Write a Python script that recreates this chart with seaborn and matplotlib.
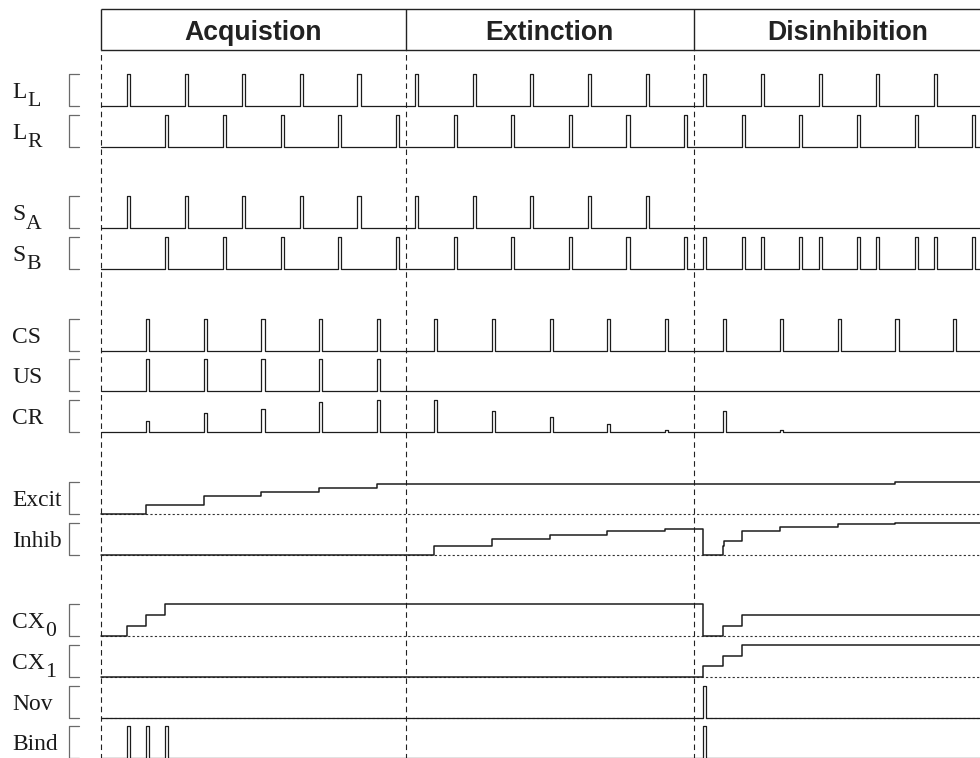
import numpy as np
import pandas as pd
import matplotlib
matplotlib.use("Agg")
import matplotlib.pyplot as plt
import seaborn as sns

# ---------------- data (time in simulation steps, one trial = 30 steps) ----------------
phase_names = ["Acquistion", "Extinction", "Disinhibition"]
phase_bounds = [-3.5, 155, 305, 465]

LL_times = [10, 40, 70, 100, 130, 160, 190, 220, 250, 280, 310, 340, 370, 400, 430]
LR_times = [30, 60, 90, 120, 150, 180, 210, 240, 270, 300, 330, 360, 390, 420, 450]
SA_times = [10, 40, 70, 100, 130, 160, 190, 220, 250, 280]
SB_times = [30, 60, 90, 120, 150, 180, 210, 240, 270, 300,
            310, 330, 340, 360, 370, 390, 400, 420, 430, 450]
CS_times = [20, 50, 80, 110, 140, 170, 200, 230, 260, 290, 320, 350, 380, 410, 440]
US_times = [20, 50, 80, 110, 140]
CR_times = [20, 50, 80, 110, 140, 170, 200, 230, 260, 290, 320, 350, 380, 410, 440]
CR_heights = [0.34, 0.61, 0.73, 0.93, 1.0, 1.0, 0.67, 0.47, 0.26, 0.07, 0.66, 0.07, 0.0, 0.0, 0.0]
Nov_times = [310]
Bind_times = [10, 20, 30, 310]

Excit_t = [20, 50, 80, 110, 140, 410]
Excit_v = [0.28, 0.54, 0.67, 0.79, 0.93, 1.0]
Inhib_t = [170, 200, 230, 260, 290, 310, 320, 321, 330, 350, 380, 410]
Inhib_v = [0.27, 0.47, 0.61, 0.75, 0.81, 0.0, 0.26, 0.42, 0.73, 0.86, 0.94, 0.99]
CX0_t = [10, 20, 30, 310, 320, 330]
CX0_v = [0.33, 0.67, 1.0, 0.0, 0.33, 0.67]
CX1_t = [310, 320, 330]
CX1_v = [0.33, 0.66, 1.0]

row_labels = ["L", "L", "S", "S", "CS", "US", "CR", "Excit", "Inhib", "CX", "CX", "Nov", "Bind"]
row_subs = ["L", "R", "A", "B", "", "", "", "", "", "0", "1", "", ""]
row_slots = [0, 1, 3, 4, 6, 7, 8, 10, 11, 13, 14, 15, 16]

# ---------------- layout ----------------
ROW_H = 0.785          # signal height as a fraction of row spacing
PULSE_W = 1.6          # pulse width in time steps
T0, T1 = phase_bounds[0], phase_bounds[-1] + 5
XLIM = (-56.07, 454.0)
YLIM = (-15.99, 2.60)
HDR_TOP, HDR_BOT, HDR_TXT = 2.379, 1.373, 1.618
INK = "#1c1c1c"


def pulse_path(times, heights=None):
    if heights is None:
        heights = [1.0] * len(times)
    xs, ys = [T0], [0.0]
    for t, v in zip(times, heights):
        xs += [t, t, t + PULSE_W, t + PULSE_W]
        ys += [0.0, v, v, 0.0]
    xs.append(T1)
    ys.append(0.0)
    return xs, ys


def step_path(ts, vs, v0=0.0):
    xs, ys, prev = [T0], [v0], v0
    for t, v in zip(ts, vs):
        xs += [t, t]
        ys += [prev, v]
        prev = v
    xs.append(T1)
    ys.append(prev)
    return xs, ys


pulse_rows = {
    "LL": (0, pulse_path(LL_times)),
    "LR": (1, pulse_path(LR_times)),
    "SA": (3, pulse_path(SA_times)),
    "SB": (4, pulse_path(SB_times)),
    "CS": (6, pulse_path(CS_times)),
    "US": (7, pulse_path(US_times)),
    "CR": (8, pulse_path(CR_times, CR_heights)),
    "Nov": (15, pulse_path(Nov_times)),
    "Bind": (16, pulse_path(Bind_times)),
}
step_rows = {
    "Excit": (10, step_path(Excit_t, Excit_v)),
    "Inhib": (11, step_path(Inhib_t, Inhib_v)),
    "CX0": (13, step_path(CX0_t, CX0_v)),
    "CX1": (14, step_path(CX1_t, CX1_v)),
}


def to_frame(rows):
    frames = []
    for name, (slot, (xs, ys)) in rows.items():
        frames.append(pd.DataFrame({
            "signal": name,
            "t": xs,
            "y": -slot + np.asarray(ys) * ROW_H,
        }))
    return pd.concat(frames, ignore_index=True)


df_pulse = to_frame(pulse_rows)
df_step = to_frame(step_rows)

sns.set_style("white")
fig = plt.figure(figsize=(9.8, 7.58), dpi=100)
ax = fig.add_axes([0, 0, 1, 1])

# dotted zero lines of the analog rows
ax.hlines([-10, -11, -13, -14, -15], T0, T1, colors="#333333",
          linestyles=(0, (2, 2)), lw=0.8, zorder=1)

sns.lineplot(data=df_pulse, x="t", y="y", units="signal", estimator=None,
             sort=False, color=INK, lw=0.9, legend=False, ax=ax, zorder=3)
sns.lineplot(data=df_step, x="t", y="y", units="signal", estimator=None,
             sort=False, color=INK, lw=1.1, legend=False, ax=ax, zorder=3)

# phase dividers (dashed) and header box
ax.vlines(phase_bounds[:3], YLIM[0] - 1, HDR_BOT, colors="#222222",
          linestyles=(0, (5, 3.5)), lw=0.8, zorder=2)
ax.hlines([HDR_TOP, HDR_BOT], phase_bounds[0], phase_bounds[-1] + 20,
          colors="#222222", lw=1.0)
ax.vlines(phase_bounds[:3], HDR_BOT, HDR_TOP, colors="#222222", lw=1.0)
for name, a, b in zip(phase_names, phase_bounds[:-1], phase_bounds[1:]):
    ax.text((a + b) / 2, HDR_TXT, name, ha="center", va="baseline",
            fontsize=19.2, fontweight="bold", family="Liberation Sans",
            color="#222222")

# row labels and brackets
for lab, sub, slot in zip(row_labels, row_subs, row_slots):
    base = -slot
    txt = ax.text(-49.6, base + 0.196, lab, ha="left", va="baseline",
                  fontsize=16.9, family="Liberation Serif", color="#1a1a1a")
    if sub:
        ax.annotate(sub, xy=(1, 0), xycoords=txt, xytext=(0.2, -6.0),
                    textcoords="offset points", ha="left", va="bottom",
                    fontsize=15.7, family="Liberation Serif", color="#1a1a1a")
    ax.plot([-14.8, -20.0, -20.0, -14.8],
            [base + ROW_H, base + ROW_H, base, base],
            color="#6a6a6a", lw=0.9, clip_on=False)

ax.set_xlim(*XLIM)
ax.set_ylim(*YLIM)
ax.axis("off")

fig.savefig("out.png", dpi=100)
